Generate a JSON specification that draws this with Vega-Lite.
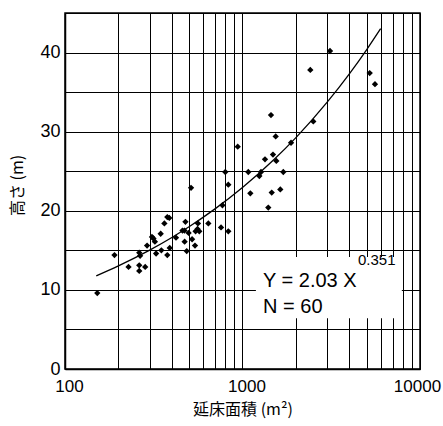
{
  "$schema": "https://vega.github.io/schema/vega-lite/v6.json",
  "width": 355,
  "height": 356,
  "autosize": {"type": "none"},
  "padding": {"left": 65, "top": 13, "right": 23, "bottom": 57},
  "background": "white",
  "config": {
    "view": {"stroke": "black", "strokeWidth": 1.5},
    "axis": {
      "grid": true,
      "gridColor": "black",
      "gridWidth": 1,
      "gridOpacity": 1,
      "ticks": false,
      "domainColor": "black",
      "domainWidth": 1.5,
      "labelFont": "Liberation Sans",
      "labelFontSize": 18,
      "labelColor": "black",
      "labelOverlap": false,
      "labelFlush": false,
      "titleFont": "Noto Sans CJK JP",
      "titleFontSize": 16,
      "titleFontWeight": "normal",
      "titleColor": "black"
    }
  },
  "datasets": {
    "pts": [
      {"area": 152, "height": 9.6}, {"area": 190, "height": 14.4}, {"area": 228, "height": 12.9},
      {"area": 262, "height": 14.7}, {"area": 265, "height": 14.3}, {"area": 262, "height": 13.1},
      {"area": 262, "height": 12.4}, {"area": 283, "height": 12.9}, {"area": 290, "height": 15.6},
      {"area": 309, "height": 16.7}, {"area": 315, "height": 16.5}, {"area": 321, "height": 16.1},
      {"area": 326, "height": 14.6}, {"area": 346, "height": 17.1}, {"area": 349, "height": 15.0},
      {"area": 363, "height": 18.4}, {"area": 377, "height": 19.2}, {"area": 387, "height": 19.1},
      {"area": 377, "height": 14.4}, {"area": 389, "height": 15.3}, {"area": 422, "height": 16.6},
      {"area": 459, "height": 17.5}, {"area": 471, "height": 17.5}, {"area": 477, "height": 18.6},
      {"area": 472, "height": 16.1}, {"area": 485, "height": 14.9}, {"area": 497, "height": 17.2},
      {"area": 513, "height": 22.9}, {"area": 520, "height": 16.4}, {"area": 540, "height": 15.6},
      {"area": 544, "height": 17.4}, {"area": 558, "height": 17.7}, {"area": 571, "height": 17.4},
      {"area": 561, "height": 18.4}, {"area": 642, "height": 18.4}, {"area": 757, "height": 17.9},
      {"area": 832, "height": 17.4}, {"area": 771, "height": 20.7}, {"area": 800, "height": 24.9},
      {"area": 832, "height": 23.3}, {"area": 940, "height": 28.1}, {"area": 1078, "height": 24.9},
      {"area": 1107, "height": 22.2}, {"area": 1244, "height": 24.4}, {"area": 1271, "height": 24.9},
      {"area": 1339, "height": 26.5}, {"area": 1397, "height": 20.4}, {"area": 1447, "height": 32.1},
      {"area": 1461, "height": 22.3}, {"area": 1485, "height": 27.1}, {"area": 1538, "height": 29.4},
      {"area": 1551, "height": 26.3}, {"area": 1633, "height": 22.7}, {"area": 1698, "height": 24.9},
      {"area": 1877, "height": 28.6}, {"area": 2410, "height": 37.8}, {"area": 2505, "height": 31.3},
      {"area": 3111, "height": 40.2}, {"area": 5207, "height": 37.4}, {"area": 5576, "height": 36.0}
    ],
    "fit": [
      {"area": 150, "height": 11.78}, {"area": 200, "height": 13.04}, {"area": 300, "height": 15.03},
      {"area": 400, "height": 16.63}, {"area": 500, "height": 17.98}, {"area": 700, "height": 20.24},
      {"area": 1000, "height": 22.94}, {"area": 1500, "height": 26.45}, {"area": 2000, "height": 29.25},
      {"area": 3000, "height": 33.73}, {"area": 4000, "height": 37.31}, {"area": 5000, "height": 40.35},
      {"area": 6000, "height": 43.02}
    ],
    "box": [{"area": 1190, "area2": 7900, "height": 6.4, "height2": 14.15}],
    "eq": [
      {"area": 1305, "height": 10.38, "label": "Y = 2.03 X"},
      {"area": 1305, "height": 7.06, "label": "N = 60"}
    ],
    "sup": [{"area": 4474, "height": 13.11, "label": "0.351"}]
  },
  "encoding": {
    "x": {
      "field": "area",
      "type": "quantitative",
      "scale": {"type": "log", "domain": [100, 10000], "nice": false},
      "axis": {
        "title": "延床面積 (m²)",
        "values": [100, 200, 300, 400, 500, 600, 700, 800, 900, 1000, 2000, 3000, 4000, 5000, 6000, 7000, 8000, 9000, 10000],
        "labelExpr": "(datum.value == 100 || datum.value == 1000 || datum.value == 10000) ? format(datum.value, 'd') : ''",
        "labelFontSize": 17,
        "labelOffset": {"condition": {"test": "datum.value == 10000", "value": -3}, "value": 4},
        "labelPadding": 9,
        "titleBaseline": "alphabetic",
        "titleY": 45
      }
    },
    "y": {
      "field": "height",
      "type": "quantitative",
      "scale": {"domain": [0, 45], "nice": false},
      "axis": {
        "title": "高さ (m)",
        "values": [0, 5, 10, 15, 20, 25, 30, 35, 40, 45],
        "labelExpr": "datum.value % 10 == 0 ? format(datum.value, 'd') : ''",
        "labelPadding": 5,
        "titlePadding": 14,
        "titleY": 172
      }
    }
  },
  "layer": [
    {
      "data": {"name": "pts"},
      "mark": {"type": "point", "shape": "diamond", "filled": true, "color": "black", "size": 40, "opacity": 1}
    },
    {
      "data": {"name": "fit"},
      "mark": {"type": "line", "color": "black", "strokeWidth": 1.3, "interpolate": "monotone"}
    },
    {
      "data": {"name": "box"},
      "mark": {"type": "rect", "color": "white", "opacity": 1},
      "encoding": {"x2": {"field": "area2"}, "y2": {"field": "height2"}}
    },
    {
      "data": {"name": "eq"},
      "mark": {"type": "text", "align": "left", "baseline": "alphabetic", "font": "Liberation Sans", "fontSize": 20, "color": "black"},
      "encoding": {"text": {"field": "label"}}
    },
    {
      "data": {"name": "sup"},
      "mark": {"type": "text", "align": "left", "baseline": "alphabetic", "font": "Liberation Sans", "fontSize": 15, "color": "black"},
      "encoding": {"text": {"field": "label"}}
    }
  ]
}
